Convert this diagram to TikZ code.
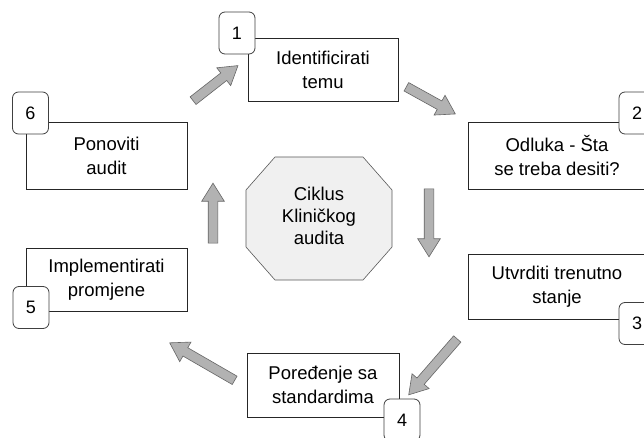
\documentclass[tikz,border=0pt]{standalone}
\usepackage{fontspec}
\setmainfont{Liberation Sans}
\usetikzlibrary{shapes.arrows}

\begin{document}
\begin{tikzpicture}[x=1pt, y=-1pt,
    stepbox/.style={draw=black!85, line width=0.8pt, fill=white, align=center, inner sep=0pt,
        font=\fontsize{18.5}{24}\selectfont},
    badge/.style={draw=black!75, line width=0.8pt, fill=white, rounded corners=6pt,
        minimum width=36pt, minimum height=42pt, inner sep=0pt, font=\fontsize{18}{22}\selectfont},
    cyclearrow/.style={single arrow, draw=black!60, line width=0.6pt, fill=black!30,
        inner sep=4.5pt, single arrow head extend=6.5pt, single arrow tip angle=64,
        single arrow head indent=0pt, minimum width=0pt}]
\clip (0,0) rectangle (644,438);
\fill[white] (0,0) rectangle (644,438);

% central octagon
\draw[draw=black!65, line width=0.6pt, fill=black!6]
    (275,157) -- (363,157) -- (392,190) -- (392,247) -- (363,280) -- (275,280) -- (246,247) -- (246,190) -- cycle;
\node[align=center, inner sep=0pt, font=\fontsize{18.5}{22}\selectfont] (ciklus) at (319,216)
    {Ciklus\\Kliničkog\\audita};

% steps
\node[stepbox, minimum width=150pt, minimum height=63pt] (tema) at (323,69.5) {Identificirati\\temu};
\node[stepbox, minimum width=178pt, minimum height=67pt] (odluka) at (557,155.5) {Odluka - Šta\\se treba desiti?};
\node[stepbox, minimum width=178pt, minimum height=65pt] (stanje) at (557,286.5) {Utvrditi trenutno\\stanje};
\node[stepbox, minimum width=152pt, minimum height=64pt] (poredenje) at (323,385) {Poređenje sa\\standardima};
\node[stepbox, minimum width=161pt, minimum height=63pt] (promjene) at (106.5,279.5) {Implementirati\\promjene};
\node[stepbox, minimum width=161pt, minimum height=67pt] (ponoviti) at (106.5,155.5) {Ponoviti\\audit};

% numbers
\node[badge] (n1) at (237,33) {1};
\node[badge] (n2) at (637,113) {2};
\node[badge] (n3) at (637,323.5) {3};
\node[badge] (n4) at (402,420) {4};
\node[badge] (n5) at (31,307.5) {5};
\node[badge] (n6) at (30.5,113) {6};

% cycle arrows
\node[cyclearrow, minimum height=57pt, rotate=38] (a61) at (212.5,85.5) {};
\node[cyclearrow, minimum height=56pt, rotate=-29] (a12) at (427.5,98.5) {};
\node[cyclearrow, minimum height=68pt, rotate=-90] (a23) at (429,219) {};
\node[cyclearrow, minimum height=74pt, rotate=-131] (a34) at (435.5,364) {};
\node[cyclearrow, minimum height=75pt, rotate=150] (a45) at (205.5,363.5) {};
\node[cyclearrow, minimum height=60pt, rotate=90] (a56) at (213,217) {};

\end{tikzpicture}
\end{document}
